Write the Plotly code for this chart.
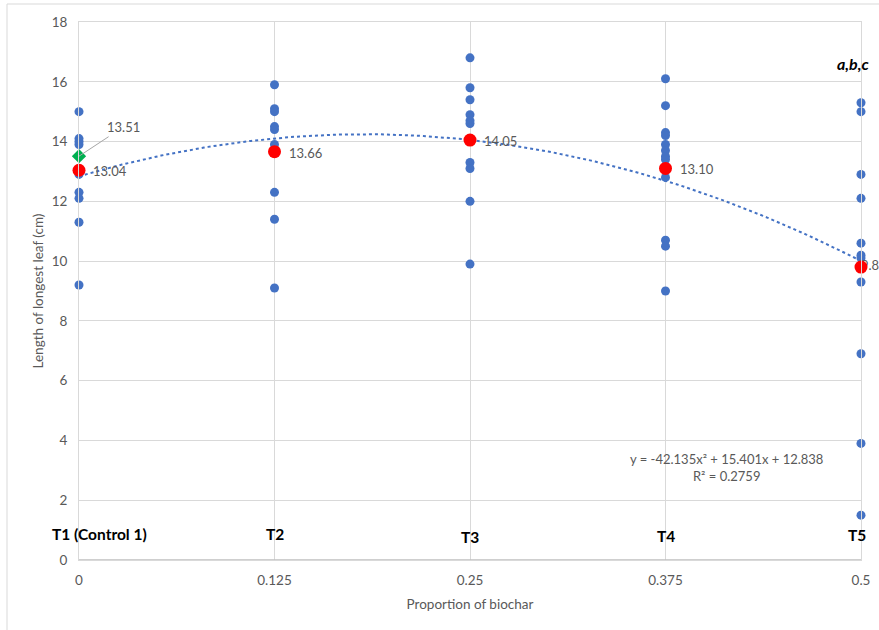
import plotly.graph_objects as go

# ---- data ----
proportions = [0, 0.125, 0.25, 0.375, 0.5]
treatments = ["T1 (Control 1)", "T2", "T3", "T4", "T5"]
obs_T1 = [15.0, 14.1, 14.0, 13.9, 12.9, 12.3, 12.1, 11.3, 9.2]
obs_T2 = [15.9, 15.1, 15.0, 14.5, 14.4, 13.9, 12.3, 11.4, 9.1]
obs_T3 = [16.8, 15.8, 15.4, 14.9, 14.7, 14.6, 13.3, 13.1, 12.0, 9.9]
obs_T4 = [16.1, 15.2, 14.3, 14.2, 13.9, 13.7, 13.5, 13.4, 12.8, 10.7, 10.5, 9.0]
obs_T5 = [15.3, 15.0, 12.9, 12.1, 10.6, 10.2, 10.1, 9.3, 6.9, 3.9, 1.5]
means = [13.04, 13.66, 14.05, 13.10, 9.80]
control_extra = 13.51
trend_coef = [-42.135, 15.401, 12.838]  # a x^2 + b x + c
r_squared = 0.2759
y_ticks = [0, 2, 4, 6, 8, 10, 12, 14, 16, 18]

BLUE = "#4472C4"
GRAY_TXT = "#595959"
FONT = "Lato"

obs_all = [obs_T1, obs_T2, obs_T3, obs_T4, obs_T5]
xs, ys = [], []
for p, obs in zip(proportions, obs_all):
    xs += [p] * len(obs)
    ys += obs

fig = go.Figure()

# trendline from the displayed equation
tx = [i * 0.5 / 200 for i in range(201)]
ty = [trend_coef[0] * x * x + trend_coef[1] * x + trend_coef[2] for x in tx]
fig.add_trace(go.Scatter(x=tx, y=ty, mode="lines",
                         line=dict(color=BLUE, width=2, dash="dot"),
                         hoverinfo="skip", showlegend=False))

fig.add_trace(go.Scatter(x=xs, y=ys, mode="markers",
                         marker=dict(color=BLUE, size=9),
                         showlegend=False, cliponaxis=False))

# label for last mean drawn below marker
fig.add_trace(go.Scatter(x=[proportions[-1]], y=[means[-1]], mode="text",
                         text=[f"{means[-1]:.2f}"], textposition="middle right",
                         textfont=dict(family=FONT, size=13, color=GRAY_TXT),
                         showlegend=False, cliponaxis=False))

fig.add_trace(go.Scatter(x=proportions, y=means, mode="markers",
                         marker=dict(color="#FF0000", size=13),
                         showlegend=False, cliponaxis=False))

fig.add_trace(go.Scatter(x=[proportions[0]], y=[control_extra], mode="markers",
                         marker=dict(color="#00B050", size=11, symbol="diamond"),
                         showlegend=False, cliponaxis=False))

annotations = []
for p, m in zip(proportions[:-1], means[:-1]):
    annotations.append(dict(x=p, y=m, xref="x", yref="y", text=f"{m:.2f}",
                            showarrow=False, xanchor="left", yanchor="middle",
                            xshift=12, yshift=-1,
                            font=dict(family=FONT, size=13, color=GRAY_TXT)))

annotations.append(dict(x=proportions[0], y=control_extra, xref="x", yref="y",
                        text=f"{control_extra:.2f}", showarrow=True, arrowhead=0,
                        arrowwidth=1, arrowcolor="#A6A6A6", ax=44, ay=-29,
                        xanchor="center", yanchor="middle",
                        font=dict(family=FONT, size=13, color=GRAY_TXT)))

t_shifts = [20, 0, 0, 0, -4]
t_yshift = [0, 0, -3, -2, -1]
for p, t, xs_, ys_ in zip(proportions, treatments, t_shifts, t_yshift):
    annotations.append(dict(x=p, y=0.87, xref="x", yref="y", text=f"<b>{t}</b>",
                            showarrow=False, xanchor="center", yanchor="middle",
                            xshift=xs_, yshift=ys_,
                            font=dict(family=FONT, size=15.5, color="#000000")))

annotations.append(dict(x=0.5, y=16.6, xref="x", yref="y", text="<b><i>a,b,c</i></b>",
                        showarrow=False, xanchor="center", yanchor="middle", xshift=-8,
                        font=dict(family=FONT, size=16, color="#000000")))

eq = (f"y = {trend_coef[0]}x² + {trend_coef[1]}x + {trend_coef[2]}"
      f"<br>R² = {r_squared}")
annotations.append(dict(x=0.4137, y=3.11, xref="x", yref="y", text=eq,
                        showarrow=False, xanchor="center", yanchor="middle", align="center",
                        font=dict(family=FONT, size=13, color=GRAY_TXT)))

fig.update_layout(
    width=879, height=630,
    margin=dict(l=79, r=18, t=22, b=70, autoexpand=False),
    paper_bgcolor="white", plot_bgcolor="white",
    font=dict(family=FONT, size=13, color=GRAY_TXT),
    annotations=annotations,
    shapes=[dict(type="rect", xref="paper", yref="paper",
                 x0=(7 - 79) / 782, x1=1.2, y0=-0.3, y1=(560 - 4) / 538,
                 line=dict(color="#D9D9D9", width=1), layer="below")],
    xaxis=dict(range=[0, 0.5], tickvals=proportions,
               ticktext=["0", "0.125", "0.25", "0.375", "0.5"],
               showgrid=True, gridcolor="#D9D9D9", gridwidth=1,
               showline=True, linecolor="#D9D9D9", mirror=True, automargin=False,
               zeroline=False, ticks="", ticklabelstandoff=8,
               tickfont=dict(size=13.5),
               title=dict(text="Proportion of biochar", standoff=12,
                          font=dict(family=FONT, size=13.5, color=GRAY_TXT))),
    yaxis=dict(range=[0, 18], tickvals=y_ticks,
               showgrid=True, gridcolor="#D9D9D9", gridwidth=1,
               showline=True, linecolor="#D9D9D9", mirror=True, automargin=False,
               zeroline=False, ticks="", ticklabelstandoff=8,
               tickfont=dict(size=13.5),
               title=dict(text="Length of longest leaf (cm)", standoff=4,
                          font=dict(family=FONT, size=13.5, color=GRAY_TXT))),
)
fig.add_hline(y=0, line=dict(color="#BFBFBF", width=1.5))

fig.write_html("out.html")
